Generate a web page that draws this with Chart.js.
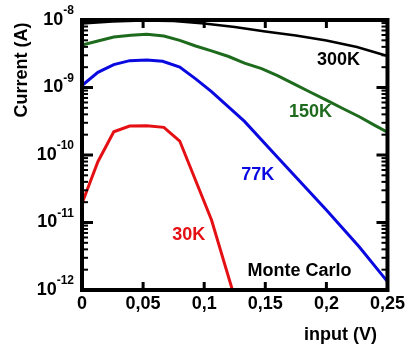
<!DOCTYPE html>
<html>
<head>
<meta charset="utf-8">
<script src="https://cdn.jsdelivr.net/npm/chart.js@4.4.1/dist/chart.umd.min.js"></script>
<style>
  html, body { margin: 0; padding: 0; background: #fff; }
  #wrap { width: 408px; height: 344px; position: relative; }
</style>
</head>
<body>
<div id="wrap"><canvas id="chart"></canvas></div>
<script>
// tick values
const xTicks = [0, 0.05, 0.1, 0.15, 0.2, 0.25];
const yDecades = [-12, -11, -10, -9, -8];

// 300K
const x300 = [0, 0.025, 0.05, 0.075, 0.1, 0.125, 0.15, 0.175, 0.2, 0.225, 0.25];
const i300 = [8.87e-9, 9.5e-9, 9.83e-9, 9.66e-9, 8.87e-9, 7.87e-9, 6.76e-9, 5.89e-9, 4.97e-9, 3.98e-9, 2.93e-9];

// 150K
const x150 = [0, 0.013, 0.026, 0.04, 0.053, 0.067, 0.08, 0.093, 0.106, 0.12, 0.133, 0.147, 0.16, 0.173, 0.187, 0.2, 0.213, 0.227, 0.24, 0.25];
const i150 = [4.27e-9, 4.89e-9, 5.6e-9, 5.95e-9, 6.15e-9, 5.8e-9, 5.0e-9, 4.12e-9, 3.49e-9, 2.88e-9, 2.3e-9, 1.9e-9, 1.5e-9, 1.14e-9, 8.5e-10, 6.5e-10, 4.93e-10, 3.69e-10, 2.72e-10, 2.17e-10];

// 77K
const x77 = [0, 0.013, 0.026, 0.039, 0.053, 0.066, 0.08, 0.093, 0.106, 0.133, 0.16, 0.2, 0.227, 0.25];
const i77 = [1.07e-9, 1.68e-9, 2.18e-9, 2.5e-9, 2.55e-9, 2.44e-9, 2.01e-9, 1.34e-9, 8.67e-10, 3.15e-10, 9.27e-11, 1.53e-11, 4.33e-12, 1.33e-12];

// 30K
const x30 = [0, 0.013, 0.026, 0.039, 0.053, 0.067, 0.08, 0.106, 0.133];
const i30 = [1.92e-11, 7.96e-11, 2.21e-10, 2.69e-10, 2.72e-10, 2.57e-10, 1.61e-10, 1.09e-11, 2.5e-13];

const curveLabels = ["300K", "150K", "77K", "30K", "Monte Carlo"];

const FONT = '"Liberation Sans", Arial, sans-serif';
const colors = ["#000000", "#1e6b1e", "#0a0ae0", "#e51014", "#000000"];

const toPoints = (xs, ys) => xs.map((v, i) => ({ x: v, y: ys[i] }));

function line(ctx, x1, y1, x2, y2) {
    ctx.beginPath();
    ctx.moveTo(x1, y1);
    ctx.lineTo(x2, y2);
    ctx.stroke();
}

const frame = {
    id: "frame",
    afterDraw(chart) {
        const { ctx, chartArea: a, scales: { x, y } } = chart;
        ctx.save();
        ctx.strokeStyle = "#000";
        ctx.fillStyle = "#000";

        // inward log ticks, left and right
        for (const e of yDecades.slice(0, -1)) {
            for (let k = 1; k < 10; k++) {
                const py = y.getPixelForValue(Number(k + "e" + e));
                const len = k === 1 ? 11 : 6;
                ctx.lineWidth = k === 1 ? 3 : 2;
                line(ctx, a.left, py, a.left + len, py);
                line(ctx, a.right, py, a.right - len, py);
            }
        }
        // inward x ticks, bottom and top
        ctx.lineWidth = 3;
        for (const v of xTicks.slice(1, -1)) {
            const px = x.getPixelForValue(v);
            line(ctx, px, a.bottom, px, a.bottom - 8);
            line(ctx, px, a.top, px, a.top + 8);
        }

        ctx.lineWidth = 4;
        ctx.strokeRect(a.left, a.top, a.right - a.left, a.bottom - a.top);

        // y tick labels 10^n
        ctx.textBaseline = "middle";
        for (const e of yDecades) {
            const py = y.getPixelForValue(Number("1e" + e));
            const exp = String(e);
            ctx.font = "bold 12px " + FONT;
            const ew = ctx.measureText(exp).width;
            const right = a.left - 8;
            ctx.textAlign = "left";
            ctx.fillText(exp, right - ew, py - 9);
            ctx.font = "bold 18px " + FONT;
            ctx.textAlign = "right";
            ctx.fillText("10", right - ew, py);
        }

        // axis titles
        ctx.font = "bold 18px " + FONT;
        ctx.save();
        ctx.translate(22, a.top + 50);
        ctx.rotate(-Math.PI / 2);
        ctx.textAlign = "center";
        ctx.fillText("Current (A)", 0, 0);
        ctx.restore();
        ctx.textAlign = "center";
        ctx.textBaseline = "alphabetic";
        ctx.fillText("input (V)", a.right - 47, a.bottom + 50);

        // curve labels, placed in data coordinates
        const spots = [[0.21, 2.55e-9], [0.187, 4.34e-10], [0.1438, 5.06e-11], [0.0874, 6.5e-12], [0.178, 1.91e-12]];
        ctx.textBaseline = "middle";
        curveLabels.forEach((t, i) => {
            ctx.fillStyle = colors[i];
            ctx.fillText(t, x.getPixelForValue(spots[i][0]), y.getPixelForValue(spots[i][1]));
        });
        ctx.restore();
    },
};

const series = [[x300, i300], [x150, i150], [x77, i77], [x30, i30]];

new Chart(document.getElementById("chart"), {
    type: "line",
    data: {
        datasets: series.map(([xs, ys], i) => ({
            label: curveLabels[i],
            data: toPoints(xs, ys),
            borderColor: colors[i],
            borderWidth: i === 0 ? 2.5 : 3,
            pointRadius: 0,
            tension: 0,
            fill: false,
        })),
    },
    options: {
        responsive: true,
        maintainAspectRatio: false,
        animation: false,
        layout: { padding: { left: 0, top: 20, right: 20, bottom: 0 } },
        plugins: { legend: { display: false }, tooltip: { enabled: false } },
        scales: {
            x: {
                type: "linear",
                min: 0,
                max: 0.25,
                grid: { display: false, drawTicks: false },
                border: { display: false },
                ticks: {
                    stepSize: 0.05,
                    padding: 3,
                    color: "#000",
                    font: { family: FONT, size: 18, weight: "bold" },
                    maxRotation: 0,
                    callback: (v) => String(Number(v.toFixed(2))).replace(".", ","),
                },
                afterFit: (s) => { s.height = 54; },
            },
            y: {
                type: "logarithmic",
                min: 1e-12,
                max: 1e-8,
                grid: { display: false, drawTicks: false },
                border: { display: false },
                ticks: { display: false },
                afterFit: (s) => { s.width = 82; },
            },
        },
    },
    plugins: [frame],
});
</script>
</body>
</html>
